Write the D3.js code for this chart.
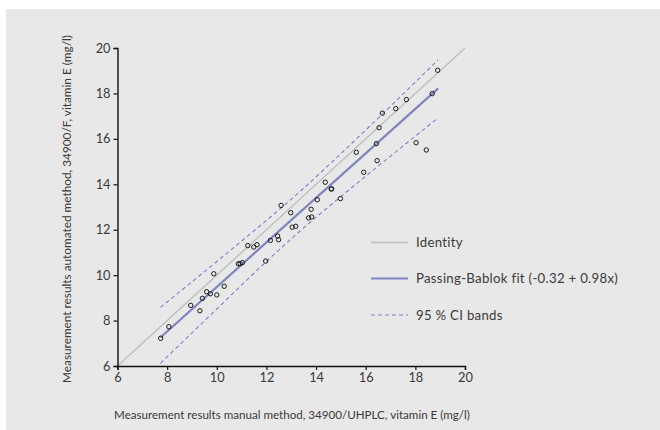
<!DOCTYPE html>
<html>
<head>
<meta charset="utf-8">
<script src="https://cdn.jsdelivr.net/npm/d3@7"></script>
<style>
  body { margin: 0; background: #fff; }
  svg { display: block; font-family: Lato, "Noto Sans", sans-serif; }
</style>
</head>
<body>
<script>
var manualX = [7.74, 8.07, 8.95, 9.32, 9.42, 9.59, 9.74, 10.00, 10.30, 9.88,
	10.87, 10.94, 11.03, 11.97, 11.25, 11.49, 11.62, 12.16, 12.45, 12.49,
	12.59, 12.98, 13.04, 13.18, 13.70, 13.82, 13.80, 14.05, 14.98, 14.37,
	14.61, 14.63, 15.92, 15.62, 16.46, 16.43, 16.54, 16.67, 17.21, 17.64,
	18.03, 18.44, 18.68, 18.90];
var automatedY = [7.22, 7.73, 8.67, 8.43, 8.98, 9.27, 9.18, 9.13, 9.51, 10.06,
	10.50, 10.51, 10.55, 10.62, 11.30, 11.24, 11.34, 11.53, 11.72, 11.56,
	13.07, 12.75, 12.11, 12.15, 12.52, 12.56, 12.90, 13.32, 13.37, 14.09,
	13.79, 13.80, 14.53, 15.41, 15.04, 15.79, 16.49, 17.13, 17.33, 17.73,
	15.83, 15.51, 17.99, 19.02];

// Passing-Bablok fit from the legend
var fitIntercept = -0.32;
var fitSlope = 0.98;
var fitRange = [7.73, 18.92];

// 95 % CI bands
var bandX = [7.73, 10, 12, 13.3, 15, 17, 18.92];
var bandUpper = [8.58, 10.60, 12.41, 13.63, 15.35, 17.44, 19.48];
var bandLower = [6.12, 8.51, 10.60, 11.89, 13.46, 15.24, 16.93];

var identityRange = [6, 20];
var tickValues = [6, 8, 10, 12, 14, 16, 18, 20];

var legendLabels = ["Identity", "Passing-Bablok fit (-0.32 + 0.98x)", "95 % CI bands"];

var width = 660, height = 430;
var textColor = "#3a3a3a";
var svg = d3.select("body").append("svg")
	.attr("width", width)
	.attr("height", height);

// grey panel
svg.append("rect")
	.attr("x", 6).attr("y", 9)
	.attr("width", width - 6).attr("height", height - 9)
	.attr("fill", "#e8e8e8");

var x = d3.scaleLinear().domain([6, 20]).range([117.5, 465]);
var y = d3.scaleLinear().domain([6, 20]).range([366, 48]);

var line = d3.line().x(function(d){ return x(d[0]); }).y(function(d){ return y(d[1]); });

// identity
svg.append("path")
	.attr("d", line([[identityRange[0], identityRange[0]], [identityRange[1], identityRange[1]]]))
	.attr("stroke", "#bdbdbd").attr("stroke-width", 1.4).attr("fill", "none");

// CI bands
var band = d3.line().curve(d3.curveMonotoneX)
	.x(function(d){ return x(d[0]); }).y(function(d){ return y(d[1]); });
[bandUpper, bandLower].forEach(function(arr){
	svg.append("path")
		.attr("d", band(bandX.map(function(v, i){ return [v, arr[i]]; })))
		.attr("stroke", "#7c80c6").attr("stroke-width", 1.1)
		.attr("stroke-dasharray", "4,3").attr("fill", "none");
});

// fit line
svg.append("path")
	.attr("d", line(fitRange.map(function(v){ return [v, fitIntercept + fitSlope * v]; })))
	.attr("stroke", "#7f84c0").attr("stroke-width", 2.2).attr("fill", "none");

// points
svg.append("g").selectAll("circle")
	.data(manualX)
	.enter().append("circle")
	.attr("cx", function(d){ return x(d); })
	.attr("cy", function(d, i){ return y(automatedY[i]); })
	.attr("r", 2.2)
	.attr("fill", "none")
	.attr("stroke", "#1a1a1a")
	.attr("stroke-width", 1);

// axes
var xAxis = svg.append("g")
	.attr("transform", "translate(0,366)")
	.call(d3.axisBottom(x).tickValues(tickValues).tickSize(4).tickPadding(3).tickSizeOuter(4));
var yAxis = svg.append("g")
	.attr("transform", "translate(117.5,0)")
	.call(d3.axisLeft(y).tickValues(tickValues).tickSize(4).tickPadding(3).tickSizeOuter(4));
[xAxis, yAxis].forEach(function(a){
	a.select(".domain").attr("stroke", "#111").attr("stroke-width", 1.4);
	a.selectAll(".tick line").attr("stroke", "#111").attr("stroke-width", 1.2);
	a.selectAll(".tick text").attr("fill", textColor)
		.style("font-size", "12.8px").style("font-family", "Lato, 'Noto Sans', sans-serif");
});

// axis titles
svg.append("text")
	.attr("x", 292).attr("y", 419)
	.attr("text-anchor", "middle")
	.attr("fill", textColor)
	.style("font-size", "11.6px")
	.text("Measurement results manual method, 34900/UHPLC, vitamin E (mg/l)");
svg.append("text")
	.attr("transform", "translate(71,209) rotate(-90)")
	.attr("text-anchor", "middle")
	.attr("fill", textColor)
	.style("font-size", "11.8px")
	.text("Measurement results automated method, 34900/F, vitamin E (mg/l)");

// legend
var legendY = [242.5, 278.5, 315];
var legend = svg.append("g");
legendLabels.forEach(function(lbl, i){
	var l = legend.append("line")
		.attr("x1", 371).attr("x2", 408)
		.attr("y1", legendY[i]).attr("y2", legendY[i]);
	if (i == 0) l.attr("stroke", "#bdbdbd").attr("stroke-width", 1.6);
	if (i == 1) l.attr("stroke", "#7f84c0").attr("stroke-width", 2);
	if (i == 2) l.attr("stroke", "#7c80c6").attr("stroke-width", 1.1).attr("stroke-dasharray", "4,3");
	legend.append("text")
		.attr("x", 416).attr("y", legendY[i] + 4.8)
		.attr("fill", textColor)
		.style("font-size", "13.2px")
		.style("letter-spacing", "0.3px")
		.text(lbl);
});
</script>
</body>
</html>
